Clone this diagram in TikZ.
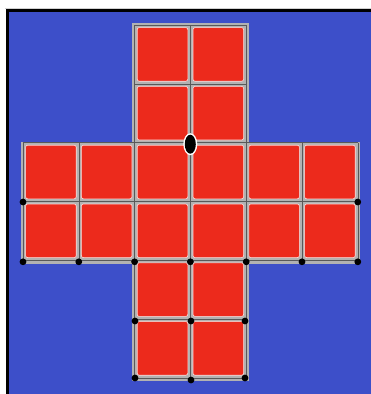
\documentclass[tikz,border=0pt]{standalone}
\definecolor{faceblue}{RGB}{61,79,201}
\definecolor{cellred}{RGB}{236,42,28}
\definecolor{gridgray}{RGB}{178,178,178}
\begin{document}
\begin{tikzpicture}[x=1pt, y=-1pt,
    cell/.style={fill=cellred, draw=white!85!cellred, line width=0.6pt, rounded corners=2pt},
    seam/.style={draw=gray!70!black, line width=0.5pt},
    dot/.style={fill=black}]
    \useasboundingbox (0,0) rectangle (371,394);
    % background and frame
    \fill[white] (0,0) rectangle (371,394);
    \fill[faceblue] (9,12) rectangle (371,394);
    \draw[gridgray!60, line width=1pt] (5,8) -- (371,8);
    \draw[black, line width=3pt] (7,394) -- (7,10) -- (371,10);
    % gray backing of the net
    \fill[gridgray] (132,23) rectangle (249,146);
    \fill[gridgray] (21,142) rectangle (360,264);
    \fill[gridgray] (132,260) rectangle (249,381);
    % cells
    \foreach \c/\r in {2/0,3/0,2/1,3/1,2/4,3/4,2/5,3/5} {
        \path[cell] ({23+55.8*\c+2.6},{25+58.8*\r+2.6}) rectangle ({23+55.8*(\c+1)-2.6},{25+58.8*(\r+1)-2.6});
    }
    \foreach \c in {0,...,5} {
        \foreach \r in {2,3} {
            \path[cell] ({23+55.8*\c+2.6},{25+58.8*\r+2.6}) rectangle ({23+55.8*(\c+1)-2.6},{25+58.8*(\r+1)-2.6});
        }
    }
    % seams
    \foreach \r in {0,1,2} \draw[seam] (134.6,{25+58.8*\r}) -- (246.2,{25+58.8*\r});
    \foreach \r in {4,5,6} \draw[seam] (134.6,{25+58.8*\r}) -- (246.2,{25+58.8*\r});
    \foreach \r in {2,3,4} \draw[seam] (23,{25+58.8*\r}) -- (357.8,{25+58.8*\r});
    \foreach \c in {2,3,4} \draw[seam] ({23+55.8*\c},25) -- ({23+55.8*\c},377.8);
    \foreach \c in {0,1,5,6} \draw[seam] ({23+55.8*\c},142.6) -- ({23+55.8*\c},260.2);
    % dots
    \fill[white] (190.3,144.2) ellipse (7pt and 11pt);
    \fill[dot] (190.3,144.2) ellipse (5.5pt and 9.5pt);
    \foreach \x in {23,357.8} \fill[dot] (\x,202) circle (3.4pt);
    \foreach \c in {0,...,6} \fill[dot] ({23+55.8*\c},261.8) circle (3.4pt);
    \foreach \x in {135,191,245} \fill[dot] (\x,321) circle (3.4pt);
    \foreach \x/\y in {135/378,191/380,245/378} \fill[dot] (\x,\y) circle (3.4pt);
\end{tikzpicture}
\end{document}
